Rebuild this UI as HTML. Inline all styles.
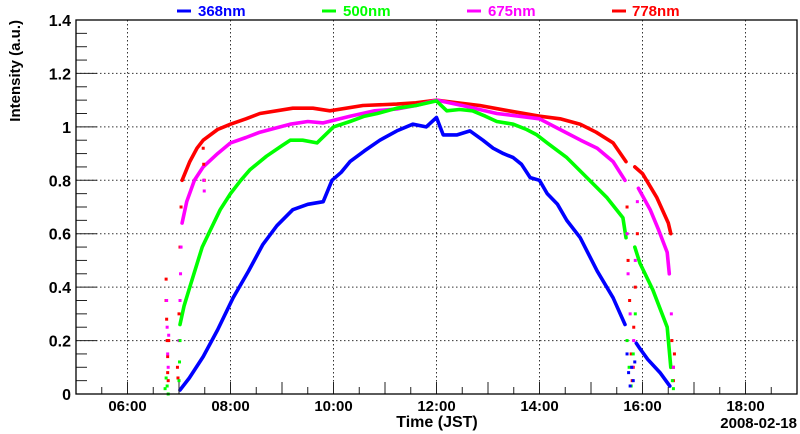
<!DOCTYPE html>
<html><head><meta charset="utf-8"><style>
html,body{margin:0;padding:0;background:#fff;}
svg{display:block;font-family:"Liberation Sans",Arial,sans-serif;font-weight:bold;}
</style></head><body>
<svg id="chart" width="800" height="434" viewBox="0 0 800 434">
<g id="grid"></g>
<g id="series"></g>
<g id="axes"></g>
<g font-size="15">
 <g><line x1="177" y1="11" x2="191" y2="11" stroke="#0000ff" stroke-width="3"/><text x="198" y="16" fill="#0000ff">368nm</text></g>
 <g><line x1="322" y1="11" x2="336" y2="11" stroke="#00ff00" stroke-width="3"/><text x="343" y="16" fill="#00ff00">500nm</text></g>
 <g><line x1="467" y1="11" x2="481" y2="11" stroke="#ff00ff" stroke-width="3"/><text x="488" y="16" fill="#ff00ff">675nm</text></g>
 <g><line x1="612" y1="11" x2="626" y2="11" stroke="#ff0000" stroke-width="3"/><text x="632" y="16" fill="#ff0000">778nm</text></g>
</g>
<text x="20" y="20" transform="rotate(-90 20 20)" text-anchor="end" font-size="15">Intensity (a.u.)</text>
<text x="437" y="427" text-anchor="middle" font-size="16">Time (JST)</text>
<text x="797" y="428" text-anchor="end" font-size="15">2008-02-18</text>
</svg>
<script>
// axis ranges
const xTickHours = [6, 8, 10, 12, 14, 16, 18];
const xTickLabels = ["06:00", "08:00", "10:00", "12:00", "14:00", "16:00", "18:00"];
const yTickValues = [0, 0.2, 0.4, 0.6, 0.8, 1.0, 1.2, 1.4];
const yTickLabels = ["0", "0.2", "0.4", "0.6", "0.8", "1", "1.2", "1.4"];

// 368nm
const blueT1 = [7.02,7.2,7.47,7.75,8.05,8.35,8.63,8.9,9.21,9.5,9.8,9.97,10.15,10.32,10.6,10.9,11.23,11.54,11.8,12.0,12.13,12.4,12.65,12.9,13.1,13.3,13.49,13.65,13.82,14.0,14.15,14.35,14.53,14.79,15.12,15.43,15.66];
const blueV1 = [0.015,0.06,0.14,0.24,0.36,0.46,0.56,0.63,0.69,0.71,0.72,0.80,0.83,0.87,0.91,0.95,0.985,1.01,1.0,1.035,0.97,0.97,0.985,0.95,0.92,0.90,0.885,0.86,0.81,0.80,0.75,0.71,0.65,0.585,0.46,0.36,0.26];
const blueT2 = [15.88,15.95,16.1,16.34,16.53];
const blueV2 = [0.19,0.17,0.13,0.08,0.03];
// 500nm
const greenT1 = [7.02,7.1,7.21,7.45,7.6,7.8,8.0,8.2,8.38,8.7,9.0,9.16,9.4,9.68,10.0,10.32,10.6,10.85,11.23,11.6,12.0,12.2,12.45,12.7,12.95,13.17,13.49,13.75,13.95,14.15,14.53,14.92,15.31,15.62,15.68];
const greenV1 = [0.26,0.33,0.40,0.55,0.61,0.69,0.75,0.80,0.84,0.89,0.93,0.95,0.95,0.94,1.0,1.02,1.04,1.05,1.07,1.08,1.097,1.06,1.065,1.06,1.04,1.02,1.01,0.99,0.97,0.94,0.885,0.81,0.735,0.66,0.585];
const greenT2 = [15.85,15.95,16.2,16.48,16.55];
const greenV2 = [0.55,0.49,0.39,0.25,0.1];
// 675nm
const magT1 = [7.06,7.15,7.3,7.47,7.75,8.0,8.3,8.57,9.16,9.5,9.8,10.32,10.8,11.23,11.6,12.0,12.5,13.17,13.6,14.0,14.45,14.8,15.12,15.43,15.66];
const magV1 = [0.64,0.72,0.80,0.85,0.90,0.94,0.96,0.98,1.01,1.02,1.015,1.04,1.06,1.067,1.08,1.1,1.08,1.05,1.04,1.03,0.985,0.95,0.92,0.87,0.80];
const magT2 = [15.92,16.15,16.3,16.48,16.52];
const magV2 = [0.77,0.69,0.62,0.53,0.45];
// 778nm
const redT1 = [7.06,7.21,7.35,7.47,7.75,8.0,8.3,8.57,9.21,9.6,9.93,10.57,11.23,11.6,12.0,12.4,12.84,13.4,14.0,14.4,14.79,15.1,15.43,15.68];
const redV1 = [0.80,0.87,0.92,0.95,0.99,1.01,1.03,1.05,1.07,1.07,1.06,1.08,1.085,1.09,1.1,1.09,1.08,1.06,1.04,1.03,1.01,0.98,0.94,0.87];
const redT2 = [15.85,16.0,16.28,16.5,16.55];
const redV2 = [0.85,0.825,0.735,0.64,0.6];

// scattered points (gap regions)
const redDotT = [6.75,6.75,6.76,6.77,6.78,6.78,6.79,6.8,6.97,6.98,7.0,7.02,7.04,7.47,7.48,7.49,15.7,15.72,15.75,15.78,15.8,15.82,15.83,15.86,15.9,16.57,16.6,16.6,16.62];
const redDotV = [0.43,0.35,0.28,0.2,0.14,0.08,0.05,0.2,0.1,0.06,0.3,0.55,0.7,0.92,0.86,0.80,0.7,0.5,0.35,0.15,0.05,0.1,0.25,0.4,0.6,0.2,0.1,0.05,0.15];
const magDotT = [6.76,6.77,6.78,6.79,6.8,7.0,7.02,7.03,7.04,7.48,7.49,15.7,15.72,15.76,15.8,15.83,15.86,15.9,16.56,16.6];
const magDotV = [0.35,0.25,0.15,0.1,0.22,0.2,0.35,0.45,0.55,0.80,0.76,0.6,0.45,0.3,0.1,0.2,0.5,0.72,0.3,0.1];
const greenDotT = [6.73,6.75,6.77,6.79,7.0,7.01,7.02,15.7,15.74,15.78,15.82,15.86,16.58,16.6];
const greenDotV = [0.02,0.06,0.03,0.0,0.05,0.12,0.2,0.2,0.1,0.03,0.15,0.3,0.05,0.02];
const blueDotT = [15.7,15.73,15.76,15.79,15.82,15.85];
const blueDotV = [0.15,0.08,0.03,0.1,0.05,0.12];

const X0=76, X1=797, Y0=394, Y1=20, TMIN=5, TMAX=19, VMAX=1.4;
function xs(t){return X0+(t-TMIN)/(TMAX-TMIN)*(X1-X0);}
function ys(v){return Y0-(v/VMAX)*(Y0-Y1);}
const NS="http://www.w3.org/2000/svg";
function mk(tag,attrs,parent){const e=document.createElementNS(NS,tag);for(const k in attrs)e.setAttribute(k,attrs[k]);parent.appendChild(e);return e;}
const grid=document.getElementById('grid'), axes=document.getElementById('axes'), ser=document.getElementById('series');

xTickHours.forEach((h,i)=>{
  const g=mk('line',{x1:xs(h),x2:xs(h),y1:Y1,y2:Y0,stroke:'#333','stroke-width':1,'stroke-dasharray':'1.5,2.5'},grid);
  
  
  const t=mk('text',{x:xs(h),y:411,'text-anchor':'middle','font-size':15},axes);
  t.textContent=xTickLabels[i];
  
  
});
yTickValues.forEach((v,i)=>{
  if(v>0&&v<VMAX){const g=mk('line',{x1:X0,x2:X1,y1:ys(v),y2:ys(v),stroke:'#333','stroke-width':1,'stroke-dasharray':'1.5,2.5'},grid);
  
  }
  const t=mk('text',{x:71,y:ys(v)+6,'text-anchor':'end','font-size':16},axes);
  t.textContent=yTickLabels[i];
  
  
});
for(let k=0;k<=28;k++){const v=k*0.05;const major=(k%4===0);
  mk('line',{x1:X0,x2:X0+(major?21:11),y1:ys(v),y2:ys(v),stroke:'#222','stroke-width':1},axes);}
for(let h=5;h<=19;h+=0.5){
  mk('line',{x1:xs(h),x2:xs(h),y1:Y0,y2:Y0-(h%1===0?12:7),stroke:'#222','stroke-width':1},axes);}
const fr=mk('rect',{x:X0,y:Y1,width:X1-X0,height:Y0-Y1,fill:'none',stroke:'#000','stroke-width':1.3},axes);



function line(T,V,color,name){
  const p=T.map((t,i)=>xs(t).toFixed(1)+','+ys(V[i]).toFixed(1)).join(' ');
  const e=mk('polyline',{points:p,fill:'none',stroke:color,'stroke-width':3.6,'stroke-linejoin':'round','stroke-linecap':'round'},ser);
  
  
}
function dots(T,V,color,name){
  T.forEach((t,i)=>{const e=mk('rect',{x:xs(t)-1.5,y:ys(V[i])-1.5,width:3,height:3,fill:color},ser);
    
    });
}
line(redT1,redV1,'#ff0000','series-778nm');
line(redT2,redV2,'#ff0000','series-778nm-late');
line(magT1,magV1,'#ff00ff','series-675nm');
line(magT2,magV2,'#ff00ff','series-675nm-late');
line(greenT1,greenV1,'#00ff00','series-500nm');
line(greenT2,greenV2,'#00ff00','series-500nm-late');
line(blueT1,blueV1,'#0000ff','series-368nm');
line(blueT2,blueV2,'#0000ff','series-368nm-late');
dots(redDotT,redDotV,'#ff0000','point-778nm');
dots(magDotT,magDotV,'#ff00ff','point-675nm');
dots(greenDotT,greenDotV,'#00ff00','point-500nm');
dots(blueDotT,blueDotV,'#0000ff','point-368nm');
</script>
</body></html>
